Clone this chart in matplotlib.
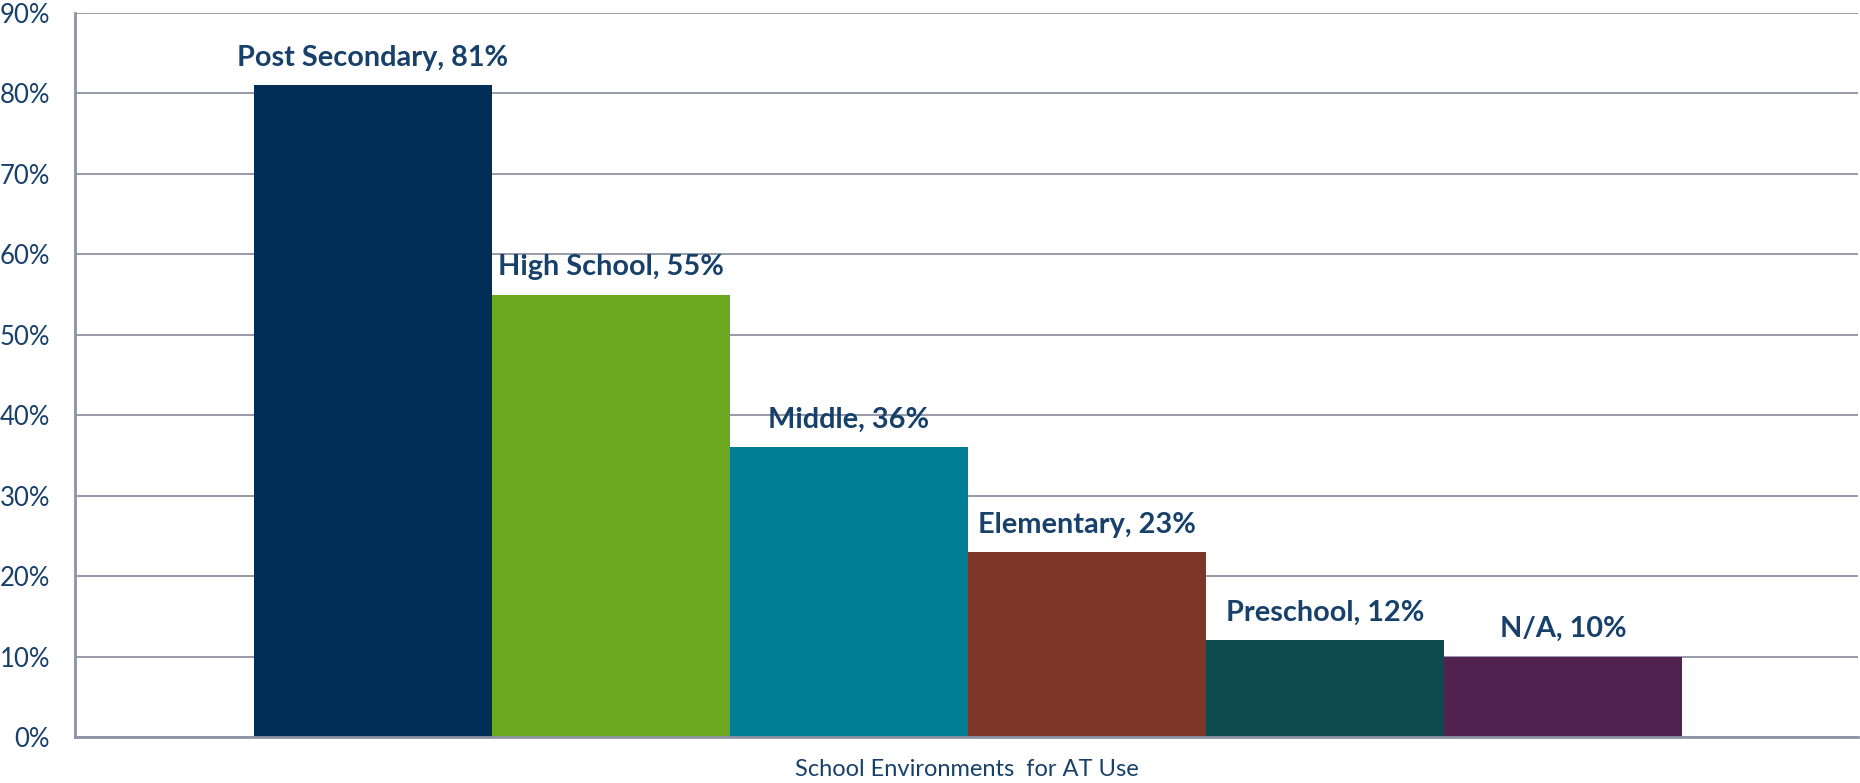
import matplotlib
matplotlib.use("Agg")
import matplotlib.pyplot as plt
from matplotlib.ticker import FuncFormatter, MultipleLocator

# Share of respondents using AT in each school environment
categories = ["Post Secondary", "High School", "Middle", "Elementary", "Preschool", "N/A"]
values = [81, 55, 36, 23, 12, 10]
colors = ["#002E56", "#6BA81F", "#007E96", "#7E3727", "#0D4A4D", "#522350"]
x_title = "School Environments  for AT Use"

text_color = "#17406B"
grid_color = "#8C93A3"

plt.rcParams["font.family"] = ["Lato", "DejaVu Sans"]

fig = plt.figure(figsize=(18.6, 7.83), dpi=100)
ax = fig.add_axes([75 / 1860, 1 - 737 / 783, 1783 / 1860, (737 - 13) / 783])

n = len(values)
positions = [i - (n - 1) / 2 for i in range(n)]
ax.bar(positions, values, width=1.0, color=colors, zorder=3, linewidth=0)

for x, v, name in zip(positions, values, categories):
    ax.annotate(f"{name}, {v}%", xy=(x, v), xytext=(0, 14), textcoords="offset points",
                ha="center", va="baseline", fontsize=20.8, fontweight="bold",
                color=text_color)

ax.set_xlim(-3.75, 3.74)
ax.set_ylim(0, 90)
ax.yaxis.set_major_locator(MultipleLocator(10))
ax.yaxis.set_major_formatter(FuncFormatter(lambda v, _: f"{v:.0f}%"))
ax.tick_params(axis="y", length=0, pad=18, labelsize=18.5, labelcolor=text_color)
ax.set_xticks([])

ax.grid(axis="y", color=grid_color, linewidth=1.3, zorder=0)
for side in ("top", "right"):
    ax.spines[side].set_visible(False)
for side in ("left", "bottom"):
    ax.spines[side].set_color(grid_color)
    ax.spines[side].set_linewidth(2)
    ax.spines[side].set_zorder(4)

ax.set_xlabel(x_title, fontsize=17, color=text_color, labelpad=16)

fig.savefig("out.png", dpi=100, facecolor="white")
